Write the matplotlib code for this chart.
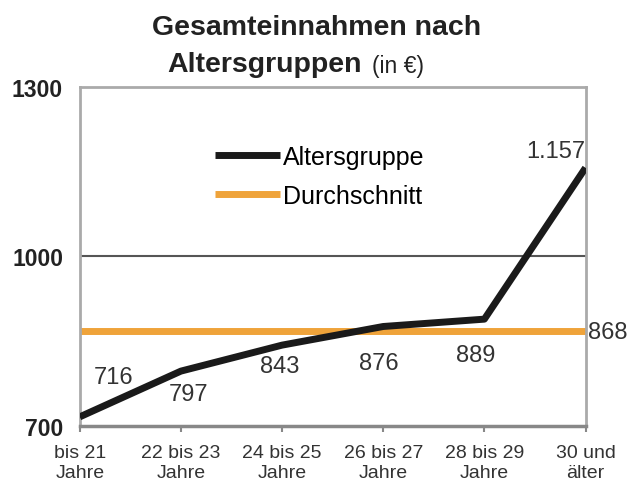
import numpy as np
import matplotlib
matplotlib.use('Agg')
import matplotlib.pyplot as plt

plt.rcParams['font.family'] = ['Liberation Sans', 'DejaVu Sans']

kategorien = ['bis 21\nJahre', '22 bis 23\nJahre', '24 bis 25\nJahre',
              '26 bis 27\nJahre', '28 bis 29\nJahre', '30 und\nälter']
werte = [716, 797, 843, 876, 889, 1157]
wert_text = ['716', '797', '843', '876', '889', '1.157']
durchschnitt = 868

x = np.arange(len(werte))

fig = plt.figure(figsize=(6.33, 4.89), dpi=100)
ax = fig.add_axes([0.126, 0.127, 0.799, 0.693])

ax.axhline(1000, color='#555555', lw=1.5, zorder=1)
ax.plot(x, [durchschnitt] * len(x), color='#EFA33A', lw=5,
        solid_capstyle='butt', label='Durchschnitt', zorder=2)
ax.plot(x, werte, color='#1a1a1a', lw=5, solid_capstyle='butt',
        label='Altersgruppe', zorder=3)

# Beschriftungen der Werte (Versatz in Pixel)
offs = [(34, 40), (8, -23), (-2, -21), (-4, -37), (-9, -36), (-30, 17)]
for i, (dx, dy) in enumerate(offs):
    ax.annotate(wert_text[i], (x[i], werte[i]), xytext=(dx, dy),
                textcoords='offset pixels', fontsize=17,
                ha='center', va='center', color='#333333')
ax.annotate(str(durchschnitt), (x[-1], durchschnitt), xytext=(2, -1),
            textcoords='offset pixels', fontsize=17,
            ha='left', va='center', color='#333333', annotation_clip=False)

ax.set_xlim(0, 5)
ax.set_ylim(700, 1300)
ax.set_yticks([700, 1000, 1300])
ax.set_yticklabels(['700', '1000', '1300'], fontweight='bold', fontsize=16.5,
                   color='#222222')
ax.set_xticks(x)
ax.set_xticklabels(kategorien, fontsize=14, color='#333333')
ax.tick_params(axis='y', length=0, pad=12)
ax.tick_params(axis='x', length=4, width=1.5, color='#888888', pad=9)

for s in ['left', 'right', 'top']:
    ax.spines[s].set_color('#aaaaaa')
    ax.spines[s].set_linewidth(2)
ax.spines['bottom'].set_color('#888888')
ax.spines['bottom'].set_linewidth(2.5)

h, l = ax.get_legend_handles_labels()
ax.legend(h[::-1], l[::-1], loc='upper left', bbox_to_anchor=(0.267, 0.829),
          frameon=False, fontsize=18, handlelength=2.6, handletextpad=0.12,
          labelspacing=0.6, borderpad=0, borderaxespad=0)

fig.text(0.5, 0.943, 'Gesamteinnahmen nach', ha='center', va='center',
         fontsize=20.5, fontweight='bold', color='#222222')
fig.text(0.265, 0.867, 'Altersgruppen', ha='left', va='center',
         fontsize=20.5, fontweight='bold', color='#222222')
fig.text(0.588, 0.865, '(in €)', ha='left', va='center',
         fontsize=16.5, color='#222222')

fig.savefig('out.png', dpi=100)
